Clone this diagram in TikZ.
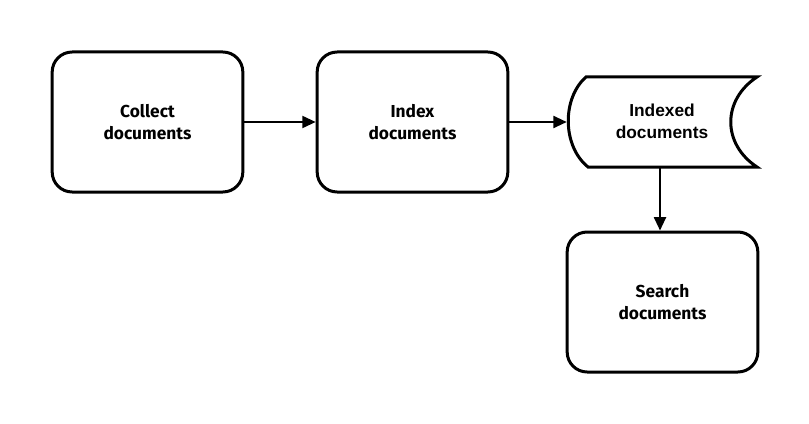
\documentclass[tikz,border=0pt]{standalone}
\usepackage{fontspec}
\setmainfont{Liberation Sans}
\newfontfamily\handfont{Fira Sans}
\usetikzlibrary{arrows.meta}
\begin{document}
\begin{tikzpicture}[x=0.75pt,y=-0.75pt,
  proc/.style={draw,line width=2.25pt,rounded corners=15pt,minimum width=143pt,minimum height=105pt,align=center,font=\handfont\fontsize{13}{16.5}\selectfont\bfseries},
  conn/.style={line width=1.5pt,-{Triangle[length=10pt,width=9pt]}}]
\useasboundingbox (0,0) rectangle (809,424);
\node[proc] (collect) at (147.5,122) {Collect\\documents};
\node[proc] (index) at (412.5,122) {Index\\documents};
\node[minimum width=142.5pt,minimum height=67.5pt,inner sep=0pt,align=center,font=\fontsize{13}{16.5}\selectfont\bfseries] (indexed) at (662,121) {Indexed\\documents};
\draw[line width=2.25pt,line join=miter] (586,77) -- (757,77) .. controls (722,100) and (722,144) .. (757,167) -- (588,167) .. controls (562,146) and (562,98) .. (586,77) -- cycle;
\node[proc] (search) at (662.5,302) {Search\\documents};
\draw[conn] (collect) -- (index);
\draw[conn] (index) -- (indexed.west |- index);
\draw[conn] (660,167) -- (search.north -| 660,0);
\end{tikzpicture}
\end{document}
